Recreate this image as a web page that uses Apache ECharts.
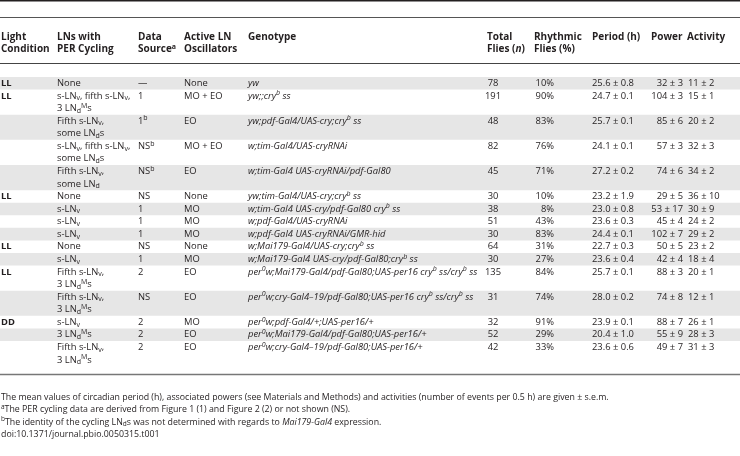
<!DOCTYPE html>
<html><head><meta charset="utf-8">
<script src="https://cdn.jsdelivr.net/npm/echarts@6/dist/echarts.min.js"></script>
<style>html,body{margin:0;padding:0;background:#fff}#c{width:740px;height:456px}</style>
</head><body><div id="c"></div>
<script>
// ---------------- DATA ----------------
const headerTitles = [
  ['Light', 'Condition'],
  ['LNs with', 'PER Cycling'],
  ['Data', 'Source^{a}'],
  ['Active LN', 'Oscillators'],
  ['Genotype'],
  ['Total', 'Flies (*n*)'],
  ['Rhythmic', 'Flies (%)'],
  ['Period (h)'],
  ['Power'],
  ['Activity']
];
const lightCondition = ['LL', 'LL', '', '', '', 'LL', '', '', '', 'LL', '', 'LL', '', 'DD', '', ''];
const lnsWithPerCycling = [
  'None',
  's-LN_{v}, fifth s-LN_{v},\n3 LN_{d}^{M}s',
  'Fifth s-LN_{v},\nsome LN_{d}s',
  's-LN_{v}, fifth s-LN_{v},\nsome LN_{d}s',
  'Fifth s-LN_{v},\nsome LN_{d}',
  'None',
  's-LN_{v}',
  's-LN_{v}',
  's-LN_{v}',
  'None',
  's-LN_{v}',
  'Fifth s-LN_{v},\n3 LN_{d}^{M}s',
  'Fifth s-LN_{v},\n3 LN_{d}^{M}s',
  's-LN_{v}',
  '3 LN_{d}^{M}s',
  'Fifth s-LN_{v},\n3 LN_{d}^{M}s'
];
const dataSource = ['—', '1', '1^{b}', 'NS^{b}', 'NS^{b}', 'NS', '1', '1', '1', 'NS', '1', '2', 'NS', '2', '2', '2'];
const activeOscillators = ['None', 'MO + EO', 'EO', 'MO + EO', 'EO', 'None', 'MO', 'MO', 'MO', 'None', 'MO', 'EO', 'EO', 'MO', 'EO', 'EO'];
const genotype = [
  'yw',
  'yw;;cry^{b} ss',
  'yw;pdf-Gal4/UAS-cry;cry^{b} ss',
  'w;tim-Gal4/UAS-cryRNAi',
  'w;tim-Gal4 UAS-cryRNAi/pdf-Gal80',
  'yw;tim-Gal4/UAS-cry;cry^{b} ss',
  'w;tim-Gal4 UAS-cry/pdf-Gal80 cry^{b} ss',
  'w;pdf-Gal4/UAS-cryRNAi',
  'w;pdf-Gal4 UAS-cryRNAi/GMR-hid',
  'w;Mai179-Gal4/UAS-cry;cry^{b} ss',
  'w;Mai179-Gal4 UAS-cry/pdf-Gal80;cry^{b} ss',
  'per^{0}w;Mai179-Gal4/pdf-Gal80;UAS-per16 cry^{b} ss/cry^{b} ss',
  'per^{0}w;cry-Gal4–19/pdf-Gal80;UAS-per16 cry^{b} ss/cry^{b} ss',
  'per^{0}w;pdf-Gal4/+;UAS-per16/+',
  'per^{0}w;Mai179-Gal4/pdf-Gal80;UAS-per16/+',
  'per^{0}w;cry-Gal4–19/pdf-Gal80;UAS-per16/+'
];
const totalFlies = [78, 191, 48, 82, 45, 30, 38, 51, 30, 64, 30, 135, 31, 32, 52, 42];
const rhythmicPct = [10, 90, 83, 76, 71, 10, 8, 43, 83, 31, 27, 84, 74, 91, 29, 33];
const periodMean = [25.6, 24.7, 25.7, 24.1, 27.2, 23.2, 23.0, 23.6, 24.4, 22.7, 23.6, 25.7, 28.0, 23.9, 20.4, 23.6];
const periodSem = [0.8, 0.1, 0.1, 0.1, 0.2, 1.9, 0.8, 0.3, 0.1, 0.3, 0.4, 0.1, 0.2, 0.1, 1.0, 0.6];
const powerMean = [32, 104, 85, 57, 74, 29, 53, 45, 102, 50, 42, 88, 74, 88, 55, 49];
const powerSem = [3, 3, 6, 3, 6, 5, 17, 4, 7, 5, 4, 3, 8, 7, 9, 7];
const activityMean = [11, 15, 20, 32, 34, 36, 30, 24, 29, 23, 18, 20, 12, 26, 28, 31];
const activitySem = [2, 1, 2, 3, 2, 10, 9, 2, 2, 2, 4, 1, 1, 1, 3, 3];
const footnotes = [
  'The mean values of circadian period (h), associated powers (see Materials and Methods) and activities (number of events per 0.5 h) are given ± s.e.m.',
  '^{a}The PER cycling data are derived from Figure 1 (1) and Figure 2 (2) or not shown (NS).',
  '^{b}The identity of the cycling LN_{d}s was not determined with regards to *Mai179-Gal4* expression.',
  'doi:10.1371/journal.pbio.0050315.t001'
];

// ---------------- LAYOUT / STYLE ----------------
const W = 740, H = 456;
const FAM = '"Open Sans", "Noto Sans", sans-serif';
const INK = '#231f20';
const LH = 12;
const BAND = '#e6e6e6';
const BODY_TOP = 77, LINE_PX = 12.57;
const HEADER_Y = [37, 49];
const HEADER_X = [1, 57, 138, 184, 248, 487, 534, 592, 651, 687];
const FOOT_Y = [397, 409.5, 422, 434.5];
const RULES = [
  {y: 0.75, w: 1.5, c: '#231f20'},
  {y: 17.5, w: 1, c: '#555555'},
  {y: 63.5, w: 1, c: '#444444'},
  {y: 374.5, w: 1.5, c: '#777777'}
];

const pm = (m, s, d) => m.toFixed(d) + ' ± ' + s.toFixed(d);
const columns = [
  {x: 1,   align: 'left',   style: 'b', get: r => lightCondition[r]},
  {x: 57,  align: 'left',   style: 'n', get: r => lnsWithPerCycling[r]},
  {x: 138, align: 'left',   style: 'n', get: r => dataSource[r]},
  {x: 184, align: 'left',   style: 'n', get: r => activeOscillators[r]},
  {x: 248, align: 'left',   style: 'i', get: r => genotype[r]},
  {x: 493, align: 'center', style: 'n', get: r => String(totalFlies[r])},
  {x: 554, align: 'right',  style: 'n', get: r => rhythmicPct[r] + '%'},
  {x: 592, align: 'left',   style: 'n', get: r => pm(periodMean[r], periodSem[r], 1)},
  {x: 683, align: 'right',  style: 'n', get: r => pm(powerMean[r], powerSem[r], 0)},
  {x: 688, align: 'left',   style: 'n', get: r => pm(activityMean[r], activitySem[r], 0)}
];

function makeRich(F) {
  const base = {
    n: {fontWeight: 'normal', fontStyle: 'normal'},
    i: {fontWeight: 'normal', fontStyle: 'italic'},
    b: {fontWeight: 'bold', fontStyle: 'normal'},
    bi: {fontWeight: 'bold', fontStyle: 'italic'}
  };
  const rich = {};
  const sf = Math.round(F * 0.72 * 2) / 2;
  Object.keys(base).forEach(k => {
    rich[k] = Object.assign({fontSize: F, fontFamily: FAM, fill: INK, lineHeight: LH}, base[k]);
    rich[k + 'Sub'] = Object.assign({fontSize: sf, fontFamily: FAM, fill: INK, lineHeight: 7, verticalAlign: 'bottom'}, base[k]);
    rich[k + 'Sup'] = Object.assign({fontSize: sf, fontFamily: FAM, fill: INK, lineHeight: 6, verticalAlign: 'top'}, base[k]);
  });
  return rich;
}
const RICH_BODY = makeRich(9.4);
const RICH_HEAD = makeRich(10);
const RICH_FOOT = makeRich(8.8);

function toRich(str, base) {
  let out = '', italic = false, buf = '';
  const cur = () => base === 'b' ? (italic ? 'bi' : 'b') : ((italic || base === 'i') ? 'i' : 'n');
  const flush = () => { if (buf) { out += '{' + cur() + '|' + buf + '}'; buf = ''; } };
  for (let i = 0; i < str.length; i++) {
    const ch = str[i];
    if (ch === '*') { flush(); italic = !italic; continue; }
    if ((ch === '_' || ch === '^') && str[i + 1] === '{') {
      flush();
      const end = str.indexOf('}', i + 2);
      out += '{' + cur() + (ch === '_' ? 'Sub' : 'Sup') + '|' + str.slice(i + 2, end) + '}';
      i = end; continue;
    }
    buf += ch;
  }
  flush();
  return out;
}

// rows: line counts derived from the cell text
const nRows = totalFlies.length;
const rowLines = [], rowStart = [];
let acc = 0;
for (let r = 0; r < nRows; r++) {
  const n = Math.max.apply(null, columns.map(c => c.get(r).split('\n').length));
  rowLines.push(n); rowStart.push(acc); acc += n;
}
const totalLines = acc;

const chart = echarts.init(document.getElementById('c'), null, {renderer: 'canvas', width: W, height: H});

const graphics = [];
RULES.forEach(l => graphics.push({type: 'line', shape: {x1: 0, y1: l.y, x2: W, y2: l.y}, style: {stroke: l.c, lineWidth: l.w}, silent: true}));
headerTitles.forEach((lines, c) => lines.forEach((t, k) => graphics.push({
  type: 'text', x: HEADER_X[c], y: HEADER_Y[k],
  style: {text: toRich(t, 'b'), rich: RICH_HEAD, align: 'left', verticalAlign: 'middle'}
})));
footnotes.forEach((t, k) => graphics.push({
  type: 'text', x: 1, y: FOOT_Y[k],
  style: {text: toRich(t, 'n'), rich: RICH_FOOT, align: 'left', verticalAlign: 'middle'}
}));

chart.setOption({
  animation: false,
  backgroundColor: '#ffffff',
  grid: {left: 0, right: 0, top: BODY_TOP, height: totalLines * LINE_PX, containLabel: false},
  xAxis: {type: 'value', min: 0, max: W, show: false},
  yAxis: {type: 'value', min: 0, max: totalLines, inverse: true, show: false},
  graphic: graphics,
  series: [{
    type: 'custom',
    coordinateSystem: 'cartesian2d',
    clip: false,
    encode: {x: -1, y: 1},
    data: rowStart.map((s, r) => [r, s, rowLines[r]]),
    renderItem: function (params, api) {
      const r = api.value(0), s = api.value(1), n = api.value(2);
      const children = [];
      if (r % 2 === 0) {
        const p0 = api.coord([0, s]), p1 = api.coord([W, s + n]);
        children.push({type: 'rect', shape: {x: p0[0], y: p0[1], width: p1[0] - p0[0], height: p1[1] - p0[1]}, style: {fill: BAND}});
      }
      columns.forEach(col => {
        col.get(r).split('\n').forEach((line, k) => {
          if (!line) return;
          const p = api.coord([col.x, s + k + 0.5]);
          children.push({type: 'text', x: p[0], y: p[1],
            style: {text: toRich(line, col.style), rich: RICH_BODY, align: col.align, verticalAlign: 'middle'}});
        });
      });
      return {type: 'group', children: children};
    }
  }]
});
</script>
</body></html>
